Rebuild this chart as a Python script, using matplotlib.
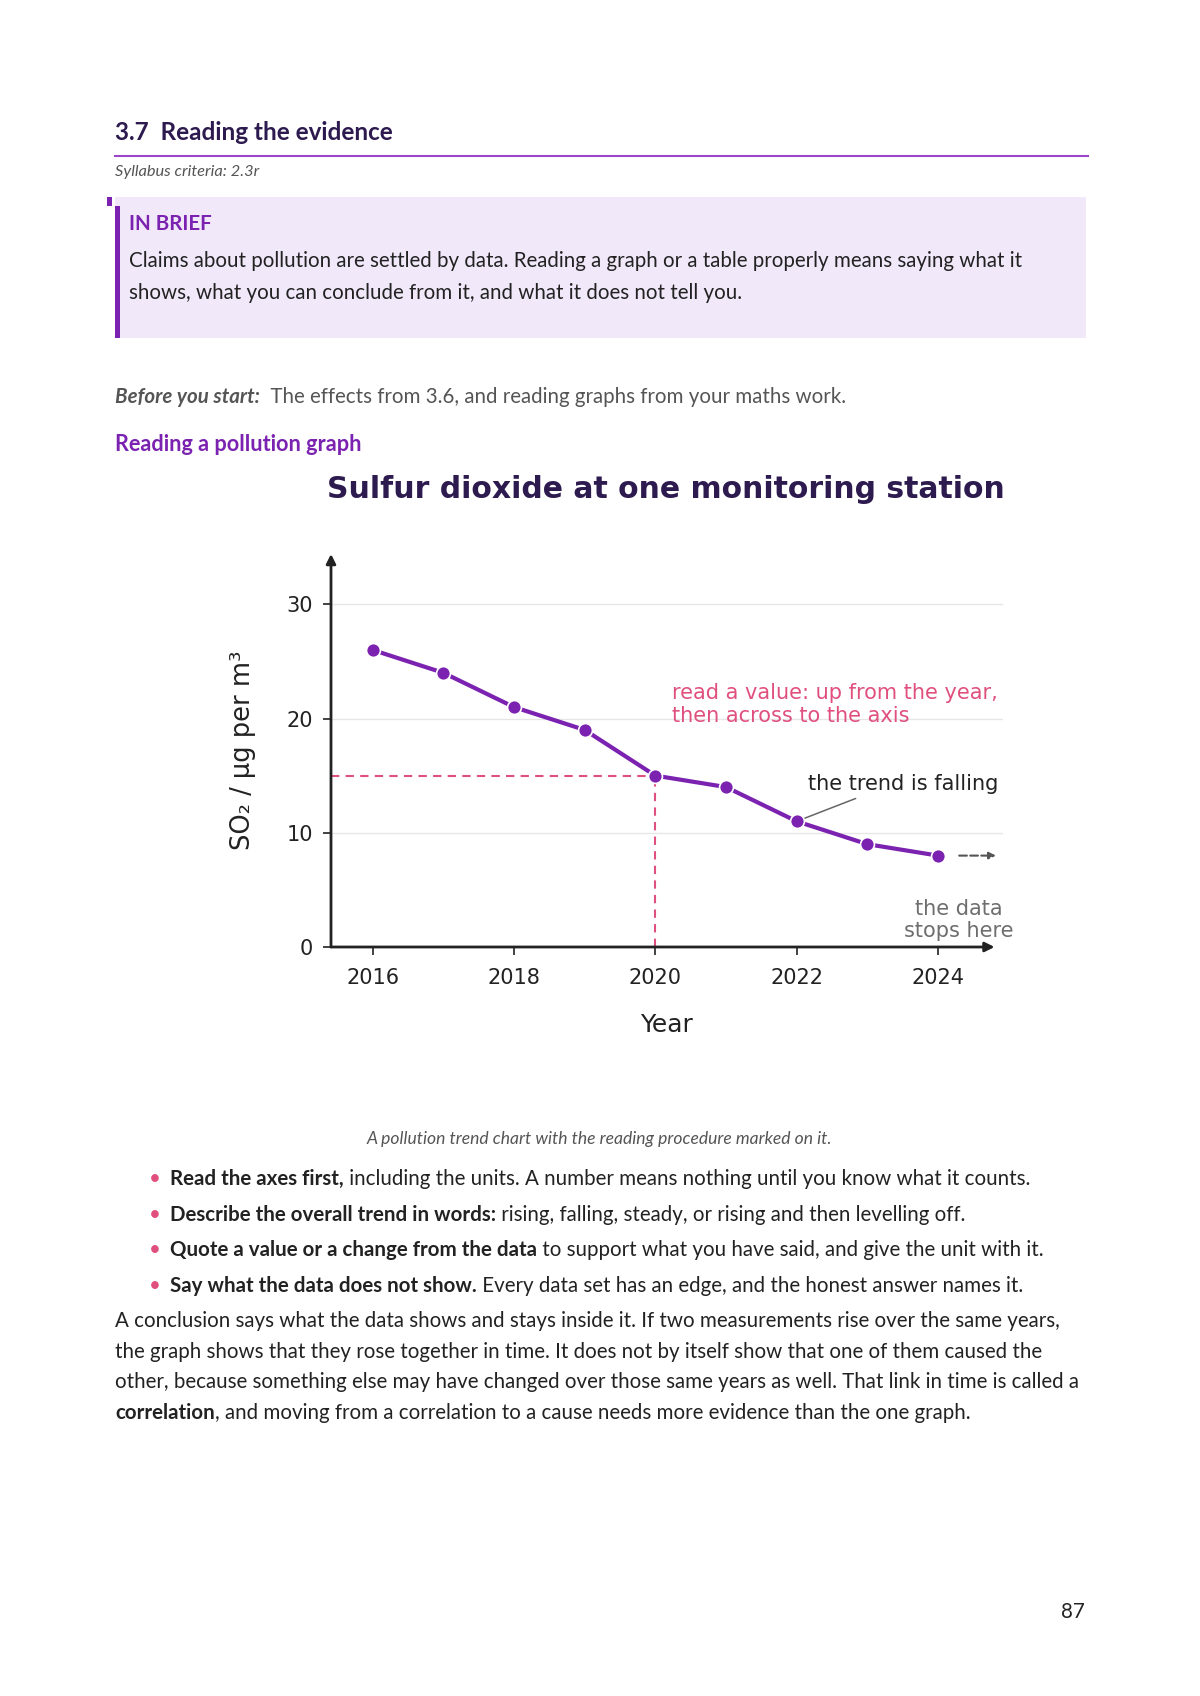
import matplotlib
matplotlib.use("Agg")
import matplotlib.pyplot as plt

# ---- data ----
years = [2016, 2017, 2018, 2019, 2020, 2021, 2022, 2023, 2024]
so2 = [26, 24, 21, 19, 15, 14, 11, 9, 8]
year_ticks = [2016, 2018, 2020, 2022, 2024]
value_ticks = [0, 10, 20, 30]
read_year = 2020
read_value = 15
trend_year = 2022

bullets = [
    ("Read the axes first,", " including the units. A number means nothing until you know what it counts."),
    ("Describe the overall trend in words:", " rising, falling, steady, or rising and then levelling off."),
    ("Quote a value or a change from the data", " to support what you have said, and give the unit with it."),
    ("Say what the data does not show.", " Every data set has an edge, and the honest answer names it."),
]
para = [
    [("", "A conclusion says what the data shows and stays inside it. If two measurements rise over the same years,")],
    [("", "the graph shows that they rose together in time. It does not by itself show that one of them caused the")],
    [("", "other, because something else may have changed over those same years as well. That link in time is called a")],
    [("correlation", ", and moving from a correlation to a cause needs more evidence than the one graph.")],
]

W, H = 1200, 1696
PURPLE = "#7b22b0"
DARK = "#2d1a4f"
PINK = "#e0507f"
TEXT = "#222222"
PAGE_FONT = ["Lato", "DejaVu Sans"]
BODY = 14.8

fig = plt.figure(figsize=(W / 100, H / 100), dpi=100)
fig.patch.set_facecolor("white")


def fx(x):
    return x / W


def fy(y):
    return 1 - y / H


renderer = fig.canvas.get_renderer()


def line(x, y, parts, size=BODY, color=TEXT):
    # parts: list of (text, weight, style, color)
    for txt, weight, style, col in parts:
        if not txt:
            continue
        t = fig.text(fx(x), fy(y), txt, fontsize=size, fontweight=weight, fontstyle=style,
                     color=col or color, family=PAGE_FONT, va="baseline", ha="left")
        bb = t.get_window_extent(renderer=renderer)
        x += bb.width


# ---- page header ----
fig.text(fx(115), fy(140), "3.7  Reading the evidence", fontsize=17.5, fontweight="bold",
         color=DARK, family=PAGE_FONT, va="baseline")
fig.add_artist(plt.Line2D([fx(115), fx(1088)], [fy(156), fy(156)], color="#9b45c9", lw=1.5))
fig.text(fx(115), fy(176), "Syllabus criteria: 2.3r", fontsize=11.8, fontstyle="italic",
         color="#555555", family=PAGE_FONT, va="baseline")

# in-brief box
fig.add_artist(plt.Rectangle((fx(115), fy(338)), fx(1086 - 115), (338 - 197) / H,
                             facecolor="#f1e8fa", edgecolor="none"))
fig.add_artist(plt.Rectangle((fx(115), fy(338)), fx(5), (338 - 206) / H,
                             facecolor=PURPLE, edgecolor="none"))
fig.add_artist(plt.Rectangle((fx(107), fy(206)), fx(5), 9 / H,
                             facecolor=PURPLE, edgecolor="none"))
fig.text(fx(129), fy(230), "IN BRIEF", fontsize=BODY, fontweight="bold", color=PURPLE,
         family=PAGE_FONT, va="baseline")
line(129, 267, [("Claims about pollution are settled by data. Reading a graph or a table properly means saying what it",
                 "normal", "normal", None)])
line(129, 299, [("shows, what you can conclude from it, and what it does not tell you.", "normal", "normal", None)])

line(115, 403, [("Before you start:", "bold", "italic", "#555555"),
                ("  The effects from 3.6, and reading graphs from your maths work.", "normal", "normal", "#555555")])
fig.text(fx(115), fy(451), "Reading a pollution graph", fontsize=15.6, fontweight="bold",
         color=PURPLE, family=PAGE_FONT, va="baseline")

# ---- chart ----
ax = fig.add_axes([fx(331), fy(947), fx(1003 - 331), (947 - 554) / H])
ax.set_xlim(2015.41, 2024.92)
ax.set_ylim(0, 34.4)
for s in ax.spines.values():
    s.set_visible(False)
for v in value_ticks[1:]:
    ax.axhline(v, color="#e6e6e6", lw=1, zorder=0)

x0 = ax.get_xlim()[0]
ax.annotate("", xy=(x0, 34.4), xytext=(x0, 0),
            arrowprops=dict(arrowstyle="-|>", color="#222222", lw=2, mutation_scale=14,
                            shrinkA=0, shrinkB=0), annotation_clip=False)
ax.annotate("", xy=(2024.8, 0), xytext=(x0, 0),
            arrowprops=dict(arrowstyle="-|>", color="#222222", lw=2, mutation_scale=14,
                            shrinkA=0, shrinkB=0), annotation_clip=False)

ax.set_xticks(year_ticks)
ax.set_yticks(value_ticks)
ax.tick_params(axis="both", labelsize=15, colors="#222222", length=6, width=1.2, direction="out")
ax.tick_params(axis="x", pad=9)
ax.tick_params(axis="y", pad=7)
ax.set_xlabel("Year", fontsize=18, color="#222222", labelpad=18)
ax.set_ylabel("SO\u2082 / \u00b5g per m\u00b3", fontsize=18.5, color="#222222", labelpad=22)

# reading guides
ax.plot([x0, read_year], [read_value, read_value], color=PINK, lw=1.5, ls=(0, (4, 3)), zorder=2)
ax.plot([read_year, read_year], [0, read_value], color=PINK, lw=1.5, ls=(0, (4, 3)), zorder=2)

ax.plot(years, so2, color=PURPLE, lw=3, marker="o", ms=10, markeredgecolor="white",
        markeredgewidth=1.2, zorder=4)

ax.text(2020.24, 21.2, "read a value: up from the year,\nthen across to the axis", color=PINK,
        fontsize=15, va="center", ha="left", linespacing=1.2)
ax.annotate("the trend is falling", xy=(trend_year, so2[years.index(trend_year)]), xytext=(2024.85, 14.25),
            fontsize=15, color="#222222", ha="right", va="center",
            arrowprops=dict(arrowstyle="-", color="#666666", lw=1.1, shrinkA=3, shrinkB=5,
                            relpos=(0.31, 0)))
ax.annotate("", xy=(2024.82, so2[-1]), xytext=(2024.3, so2[-1]),
            arrowprops=dict(arrowstyle="-|>", color="#555555", lw=1.5, ls="--", mutation_scale=10,
                            shrinkA=0, shrinkB=0), annotation_clip=False)
ax.text(2024.3, 2.35, "the data\nstops here", color="#6e6e6e", fontsize=15, ha="center", va="center",
        linespacing=1.15)

fig.text(fx(666), fy(489), "Sulfur dioxide at one monitoring station", fontsize=21.5, fontweight="bold",
         color=DARK, ha="center", va="center")

# ---- caption and body ----
fig.text(fx(599), fy(1144), "A pollution trend chart with the reading procedure marked on it.",
         fontsize=12.6, fontstyle="italic", color="#555555", family=PAGE_FONT, ha="center", va="baseline")

for i, (b, rest) in enumerate(bullets):
    y = 1185 + i * 35.7
    fig.text(fx(149), fy(y), "\u2022", fontsize=BODY, color=PINK, family=PAGE_FONT, va="baseline")
    line(170, y, [(b, "bold", "normal", None), (rest, "normal", "normal", None)])

for i, parts in enumerate(para):
    y = 1327 + i * 30.7
    segs = []
    for b, rest in parts:
        segs.append((b, "bold", "normal", None))
        segs.append((rest, "normal", "normal", None))
    line(115, y, segs)

fig.text(fx(1073), fy(1618), "87", fontsize=BODY, color=TEXT, family=PAGE_FONT, ha="center", va="baseline")

fig.savefig("out.png", dpi=100, facecolor="white")
